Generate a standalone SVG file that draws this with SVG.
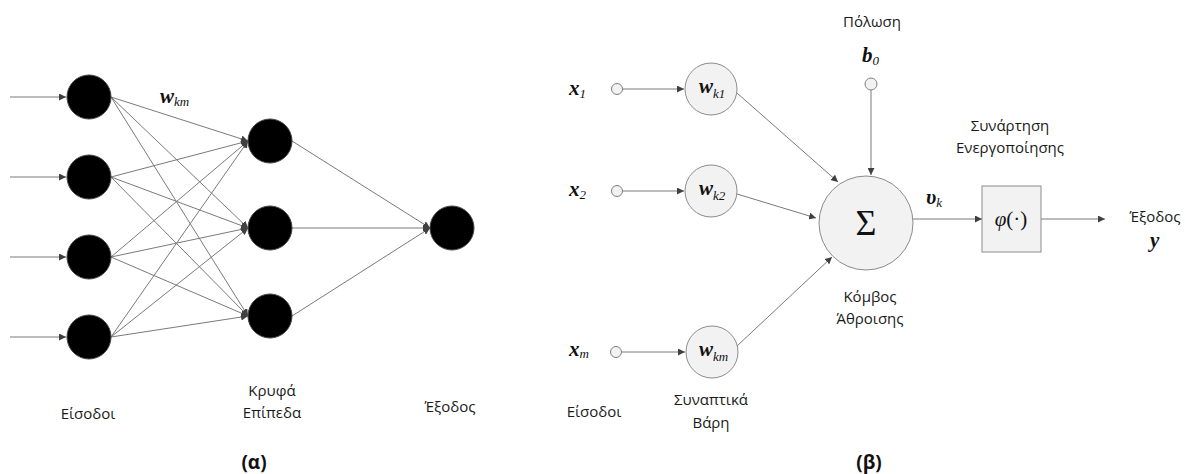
<svg xmlns="http://www.w3.org/2000/svg" width="1185" height="474" viewBox="0 0 1185 474">
  <defs>
    <marker id="arr" viewBox="0 0 10 10" refX="10" refY="5" markerWidth="7" markerHeight="7" markerUnits="userSpaceOnUse" orient="auto">
      <path d="M0,0 L10,5 L0,10 z" fill="#404040"/>
    </marker>
  </defs>
  <style>
    .edge { stroke: #7a7a7a; stroke-width: 1; fill: none; marker-end: url(#arr); }
    .black { fill: #000; stroke: #444; stroke-width: 1; }
    .wnode { fill: #f2f2f2; stroke: #8c8c8c; stroke-width: 1; }
    .port { fill: #f2f2f2; stroke: #808080; stroke-width: 1; }
    .lbl { font-family: "Open Sans", "Noto Sans", sans-serif; font-size: 15px; fill: #1a1a1a; text-anchor: middle; }
    .cap { font-family: "Open Sans", "Noto Sans", sans-serif; font-size: 19px; font-weight: bold; fill: #111; text-anchor: middle; }
    .math { font-family: "Liberation Serif", "DejaVu Serif", serif; fill: #111; }
    .mb { font-weight: bold; font-style: italic; font-size: 21px; }
    .sub { font-style: italic; font-size: 13px; font-weight: normal; }
  </style>

  <!-- (a) multilayer network: connectors -->
  <g id="connectors-a">
    <line class="edge" x1="10" y1="97" x2="66" y2="97"/>
    <line class="edge" x1="10" y1="177" x2="66" y2="177"/>
    <line class="edge" x1="10" y1="257" x2="66" y2="257"/>
    <line class="edge" x1="10" y1="337" x2="66" y2="337"/>
    <!-- input to hidden -->
    <line class="edge" x1="111" y1="97" x2="248" y2="141"/>
    <line class="edge" x1="111" y1="97" x2="248" y2="228"/>
    <line class="edge" x1="111" y1="97" x2="248" y2="316"/>
    <line class="edge" x1="111" y1="177" x2="248" y2="141"/>
    <line class="edge" x1="111" y1="177" x2="248" y2="228"/>
    <line class="edge" x1="111" y1="177" x2="248" y2="316"/>
    <line class="edge" x1="111" y1="257" x2="248" y2="141"/>
    <line class="edge" x1="111" y1="257" x2="248" y2="228"/>
    <line class="edge" x1="111" y1="257" x2="248" y2="316"/>
    <line class="edge" x1="111" y1="337" x2="248" y2="141"/>
    <line class="edge" x1="111" y1="337" x2="248" y2="228"/>
    <line class="edge" x1="111" y1="337" x2="248" y2="316"/>
    <!-- hidden to output -->
    <line class="edge" x1="292" y1="141" x2="430" y2="228"/>
    <line class="edge" x1="292" y1="228" x2="430" y2="228"/>
    <line class="edge" x1="292" y1="316" x2="430" y2="228"/>
  </g>

  <!-- (a) nodes -->
  <g id="in1"><circle class="black" cx="89" cy="97" r="22"/></g>
  <g id="in2"><circle class="black" cx="89" cy="177" r="22"/></g>
  <g id="in3"><circle class="black" cx="89" cy="257" r="22"/></g>
  <g id="in4"><circle class="black" cx="89" cy="337" r="22"/></g>
  <g id="hid1"><circle class="black" cx="270" cy="141" r="22"/></g>
  <g id="hid2"><circle class="black" cx="270" cy="228" r="22"/></g>
  <g id="hid3"><circle class="black" cx="270" cy="316" r="22"/></g>
  <g id="out"><circle class="black" cx="452" cy="228" r="22"/></g>

  <!-- (a) labels -->
  <text class="math" x="160" y="103"><tspan class="mb">w</tspan><tspan class="sub" dy="3">km</tspan></text>
  <text class="lbl" x="88" y="419">Είσοδοι</text>
  <text class="lbl" x="272" y="396">Κρυφά</text>
  <text class="lbl" x="272" y="418">Επίπεδα</text>
  <text class="lbl" x="450" y="412">Έξοδος</text>
  <text class="cap" x="254" y="469">(α)</text>

  <!-- (b) single neuron: connectors -->
  <g id="connectors-b">
    <line class="edge" x1="622" y1="89" x2="684" y2="89"/>
    <line class="edge" x1="622" y1="191" x2="684" y2="191"/>
    <line class="edge" x1="622" y1="352" x2="685" y2="352"/>
    <line class="edge" x1="737" y1="93" x2="838" y2="182"/>
    <line class="edge" x1="737" y1="194" x2="816" y2="218"/>
    <line class="edge" x1="737" y1="346" x2="832" y2="257"/>
    <line class="edge" x1="871" y1="90" x2="871" y2="175"/>
    <line class="edge" x1="913" y1="219" x2="982" y2="219"/>
    <line class="edge" x1="1041" y1="219" x2="1105" y2="219"/>
  </g>

  <!-- (b) nodes -->
  <g id="x1"><circle class="port" cx="617" cy="89" r="5.5"/></g>
  <g id="x2"><circle class="port" cx="617" cy="191" r="5.5"/></g>
  <g id="xm"><circle class="port" cx="616" cy="352" r="5.5"/></g>
  <g id="bias"><circle class="port" cx="871" cy="84" r="6"/></g>
  <g id="wk1">
    <circle class="wnode" cx="711" cy="89" r="26"/>
    <text class="math" x="699" y="93"><tspan class="mb">w</tspan><tspan class="sub" dy="5">k1</tspan></text>
  </g>
  <g id="wk2">
    <circle class="wnode" cx="711" cy="191" r="26"/>
    <text class="math" x="699" y="195"><tspan class="mb">w</tspan><tspan class="sub" dy="5">k2</tspan></text>
  </g>
  <g id="wkm">
    <circle class="wnode" cx="712" cy="352" r="26"/>
    <text class="math" x="699" y="356"><tspan class="mb">w</tspan><tspan class="sub" dy="5">km</tspan></text>
  </g>
  <g id="sum">
    <circle class="wnode" cx="866" cy="223" r="47"/>
    <text class="math" x="866" y="235" font-size="36" text-anchor="middle">Σ</text>
  </g>
  <g id="act">
    <rect class="wnode" x="982" y="186" width="59" height="66"/>
    <text class="math" x="1011" y="226" font-size="21" text-anchor="middle"><tspan font-style="italic">φ</tspan>(·)</text>
  </g>

  <!-- (b) labels -->
  <text class="math" x="569" y="95"><tspan class="mb">x</tspan><tspan class="sub" dy="3">1</tspan></text>
  <text class="math" x="569" y="196"><tspan class="mb">x</tspan><tspan class="sub" dy="3">2</tspan></text>
  <text class="math" x="569" y="356"><tspan class="mb">x</tspan><tspan class="sub" dy="2">m</tspan></text>
  <text class="math" x="862" y="62"><tspan class="mb">b</tspan><tspan class="sub" dy="3">0</tspan></text>
  <text class="math" x="926" y="204"><tspan class="mb">υ</tspan><tspan class="sub" dy="3">k</tspan></text>
  <text class="math" x="1150" y="247"><tspan class="mb">y</tspan></text>
  <text class="lbl" x="872" y="27">Πόλωση</text>
  <text class="lbl" x="1010" y="131">Συνάρτηση</text>
  <text class="lbl" x="1010" y="153">Ενεργοποίησης</text>
  <text class="lbl" x="870" y="302">Κόμβος</text>
  <text class="lbl" x="870" y="324">Άθροισης</text>
  <text class="lbl" x="1155" y="222">Έξοδος</text>
  <text class="lbl" x="594" y="417">Είσοδοι</text>
  <text class="lbl" x="711" y="405">Συναπτικά</text>
  <text class="lbl" x="711" y="428">Βάρη</text>
  <text class="cap" x="869" y="469">(β)</text>
</svg>
